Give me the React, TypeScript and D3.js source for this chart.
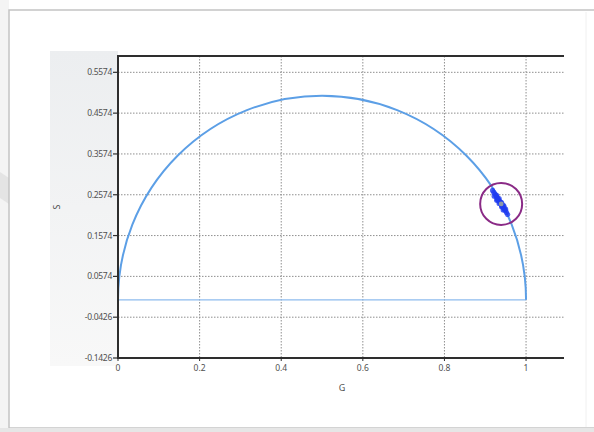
import React from "react";
import * as d3 from "d3";

const xTicks = [0, 0.2, 0.4, 0.6, 0.8, 1];
const xTickLabels = ["0", "0.2", "0.4", "0.6", "0.8", "1"];
const yTicks = [-0.1426, -0.0426, 0.0574, 0.1574, 0.2574, 0.3574, 0.4574, 0.5574];
const yTickLabels = ["-0.1426", "-0.0426", "0.0574", "0.1574", "0.2574", "0.3574", "0.4574", "0.5574"];
const xDomain = [0, 1.093];
const yDomain = [-0.1426, 0.5974];

// universal semicircle: centre G, S and radius
const semiCenter = [0.5, 0];
const semiRadius = 0.5;

// measured cluster points
const clusterG = [0.918, 0.921, 0.924, 0.926, 0.928, 0.930, 0.931, 0.933, 0.935, 0.936, 0.938, 0.940, 0.941, 0.943, 0.945, 0.947, 0.949, 0.952, 0.955, 0.929, 0.944, 0.937, 0.932, 0.942,
  0.928, 0.934, 0.940, 0.946, 0.950, 0.922, 0.928, 0.934, 0.940, 0.944];
const clusterS = [0.268, 0.263, 0.259, 0.255, 0.252, 0.249, 0.246, 0.244, 0.241, 0.239, 0.236, 0.233, 0.231, 0.228, 0.225, 0.222, 0.219, 0.214, 0.209, 0.247, 0.232, 0.240, 0.243, 0.229,
  0.256, 0.248, 0.238, 0.229, 0.222, 0.254, 0.244, 0.236, 0.228, 0.220];
const clusterMean = [0.939, 0.235];

export default function App() {
  const W = 594, H = 432;
  const L = 118, R = 564, T = 56, B = 358;
  const x = d3.scaleLinear().domain(xDomain).range([L, R]);
  const y = d3.scaleLinear().domain(yDomain).range([B, T]);
  const font = "'Noto Sans', 'DejaVu Sans', sans-serif";

  const rx = x(semiCenter[0] + semiRadius) - x(semiCenter[0]);
  const ry = y(semiCenter[1]) - y(semiCenter[1] + semiRadius);
  const arcPath = `M${x(semiCenter[0] - semiRadius)},${y(semiCenter[1])} A${rx},${ry} 0 0 1 ${x(semiCenter[0] + semiRadius)},${y(semiCenter[1])}`;

  return (
    <svg width={W} height={H} style={{ position: "absolute", left: 0, top: 0, display: "block" }}>
      <defs>
        <linearGradient id="panel" x1="0" y1="0" x2="0" y2="1">
          <stop offset="0" stopColor="#eceef0" />
          <stop offset="1" stopColor="#f8f8f8" />
        </linearGradient>
      </defs>
      <rect x={0} y={0} width={W} height={H} fill="#ffffff" />
      {/* background window edge */}
      <rect x={0} y={0} width={9} height={H} fill="#f4f4f4" />
      <path d="M0,172 L9,178 L9,204 L0,198 Z" fill="#e4e4e4" />
      {/* outer frame */}
      <rect x={9} y={10} width={600} height={418} fill="#ffffff" stroke="#c4c4c4" strokeWidth={1.5} />
      <rect x={0} y={428} width={W} height={4} fill="#e6e6e6" />
      <line x1={586} x2={586} y1={12} y2={427} stroke="#f0f0f0" strokeWidth={1} />
      {/* label panel */}
      <rect x={50} y={51} width={L - 50} height={366 - 51} fill="url(#panel)" />
      <rect x={L} y={T} width={R - L} height={B - T} fill="#ffffff" />
      {/* grid */}
      {yTicks.map((t, i) => (
        <line key={"gy" + i} x1={L} x2={R} y1={y(t)} y2={y(t)} stroke="#8f8f8f" strokeWidth={1} strokeDasharray="1.5,1.5" />
      ))}
      {xTicks.map((t, i) => (
        <line key={"gx" + i} x1={x(t)} x2={x(t)} y1={T} y2={B} stroke="#8f8f8f" strokeWidth={1} strokeDasharray="1.5,1.5" />
      ))}
      {/* semicircle */}
      <line x1={x(semiCenter[0] - semiRadius)} x2={x(semiCenter[0] + semiRadius)} y1={y(semiCenter[1])} y2={y(semiCenter[1])} stroke="#8ebbee" strokeWidth={1.3} />
      <path d={arcPath} fill="none" stroke="#5c9fe6" strokeWidth={2} />
      {/* cluster */}
      {clusterG.map((g, i) => (
        <ellipse key={"c" + i} cx={x(g)} cy={y(clusterS[i])} rx={2.6} ry={2.6} fill="#1f3cf0" opacity={0.8} />
      ))}
      <circle cx={x(clusterMean[0])} cy={y(clusterMean[1])} r={2.4} fill="#8d9aa6" />
      <circle cx={x(clusterMean[0])} cy={y(clusterMean[1])} r={21} fill="none" stroke="#8a2a86" strokeWidth={2} />
      {/* frame */}
      <line x1={L} x2={L} y1={T} y2={B + 1} stroke="#2e2e2e" strokeWidth={2} />
      <line x1={L - 1} x2={R} y1={T} y2={T} stroke="#2e2e2e" strokeWidth={2} />
      <line x1={L - 1} x2={R} y1={B} y2={B} stroke="#2e2e2e" strokeWidth={2} />
      {/* y ticks */}
      {yTicks.map((t, i) => (
        <g key={"ty" + i}>
          <line x1={L - 5} x2={L} y1={y(t)} y2={y(t)} stroke="#2e2e2e" strokeWidth={1.2} />
          <text x={L - 6} y={y(t)} dy="0.35em" textAnchor="end" fontSize={8.5} fontFamily={font} fill="#505050" letterSpacing={-0.3}>
            {yTickLabels[i]}
          </text>
        </g>
      ))}
      {/* x ticks */}
      {xTicks.map((t, i) => (
        <g key={"tx" + i}>
          <line x1={x(t)} x2={x(t)} y1={B} y2={B + 3} stroke="#2e2e2e" strokeWidth={1} />
          <text x={x(t)} y={B + 13} textAnchor="middle" fontSize={8.5} fontFamily={font} fill="#505050">
            {xTickLabels[i]}
          </text>
        </g>
      ))}
      <text x={342} y={391} textAnchor="middle" fontSize={9} fontFamily={font} fill="#505050">G</text>
      <text transform="translate(60,207) rotate(-90)" textAnchor="middle" fontSize={9} fontFamily={font} fill="#505050">S</text>
    </svg>
  );
}
